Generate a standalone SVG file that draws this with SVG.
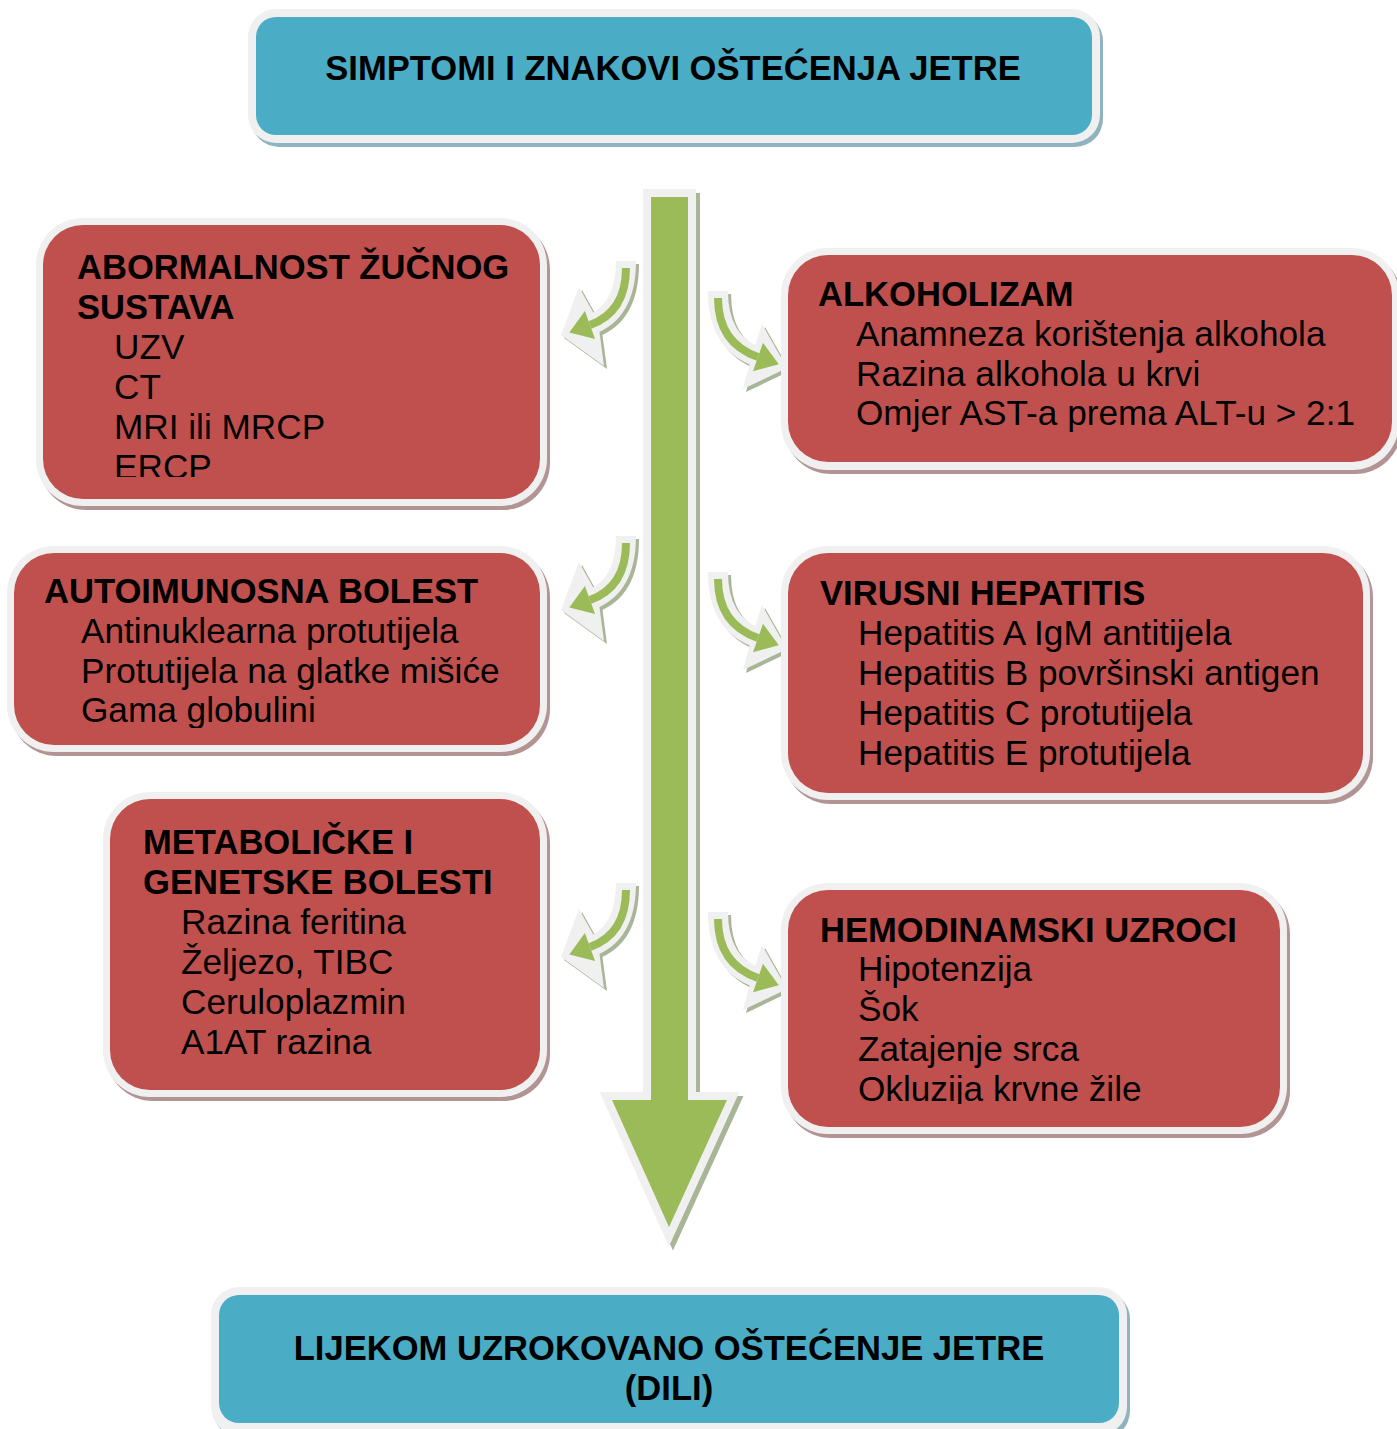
<svg xmlns="http://www.w3.org/2000/svg" xmlns:xlink="http://www.w3.org/1999/xlink" width="1397" height="1429" viewBox="0 0 1397 1429">
<style>
.lt{fill:#f0f0f0}
.shR{fill:#b39494}
.shB{fill:#8fb3bf}
.red{fill:#c0504d}
.blue{fill:#4bacc6}
.t{font-family:"Liberation Sans",Arial,sans-serif;font-size:35.2px;fill:#000}
.b{font-weight:bold;font-size:34.6px}
.c{text-anchor:middle}
.bandSh{fill:none;stroke:#a9b597;stroke-width:20}
.bandLt{fill:none;stroke:#f0f0f0;stroke-width:20}
.bandG{fill:none;stroke:#9bbb59;stroke-width:8}
.hSh{fill:#a9b597}
.hLt{fill:#f0f0f0}
.g{fill:#9bbb59}
</style>
<defs>
<clipPath id="clip1"><rect x="43" y="225" width="497" height="252"/></clipPath>
<clipPath id="clip2"><rect x="14" y="553" width="526" height="175"/></clipPath>
<clipPath id="clip6"><rect x="788" y="890" width="492" height="214"/></clipPath>
<g id="arrL">
<g transform="translate(3,3)">
<path class="bandSh" d="M626,261 Q626,312 590,325"/>
<polygon class="hSh" points="579,287 561,335 604,366 598,321"/>
</g>
<path class="bandLt" d="M626,261 Q626,312 590,325"/>
<polygon class="hLt" points="579,287 561,335 604,366 598,321"/>
<path class="bandG" d="M626,268 Q626,312 590,325"/>
<polygon class="g" points="584.9,310.9 569.3,332.5 595.1,339.1"/>
</g>
<g id="arrR">
<g transform="translate(3,3)">
<path class="bandSh" d="M718,291 Q718,343 758,357"/>
<polygon class="hSh" points="762,324 787,368 743,389 752,355"/>
</g>
<path class="bandLt" d="M718,291 Q718,343 758,357"/>
<polygon class="hLt" points="762,324 787,368 743,389 752,355"/>
<path class="bandG" d="M718,298 Q718,343 758,357"/>
<polygon class="g" points="763,342.8 778.8,364.3 753,371.2"/>
</g>
</defs>
<rect width="1397" height="1429" fill="#ffffff"/>

<g id="connectors">
<g id="mainArrow">
<polygon transform="translate(4,4)" fill="#a9b597" stroke="#a9b597" stroke-width="16" stroke-linejoin="miter" points="651,197 688,197 688,1100 727,1100 669,1227 612,1100 651,1100"/>
<polygon fill="#f0f0f0" stroke="#f0f0f0" stroke-width="16" stroke-linejoin="miter" points="651,197 688,197 688,1100 727,1100 669,1227 612,1100 651,1100"/>
<polygon class="g" points="651,197 688,197 688,1100 727,1100 669,1227 612,1100 651,1100"/>
</g>
<use xlink:href="#arrL"/>
<use xlink:href="#arrL" transform="translate(0,275)"/>
<use xlink:href="#arrL" transform="translate(0,622)"/>
<use xlink:href="#arrR"/>
<use xlink:href="#arrR" transform="translate(0,281)"/>
<use xlink:href="#arrR" transform="translate(0,621)"/>
</g>

<g id="top">
<rect class="shB" x="251" y="13" width="852" height="134" rx="28"/>
<rect class="lt" x="248" y="9" width="852" height="134" rx="28"/>
<rect class="blue" x="256" y="17" width="836" height="118" rx="20"/>
<text class="t b c" x="673" y="80">SIMPTOMI I ZNAKOVI OŠTEĆENJA JETRE</text>
</g>

<g id="box1">
<rect class="shR" x="39" y="222" width="511" height="288" rx="47"/>
<rect class="lt" x="36" y="218" width="511" height="288" rx="47"/>
<rect class="red" x="43" y="225" width="497" height="274" rx="40"/>
<g clip-path="url(#clip1)">
<text class="t b" x="77" y="279">ABORMALNOST ŽUČNOG</text>
<text class="t b" x="77" y="319">SUSTAVA</text>
<text class="t" x="114" y="359">UZV</text>
<text class="t" x="114" y="399">CT</text>
<text class="t" x="114" y="439">MRI ili MRCP</text>
<text class="t" x="114" y="479">ERCP</text>
</g>
</g>

<g id="box2">
<rect class="shR" x="10" y="550" width="540" height="206" rx="47"/>
<rect class="lt" x="7" y="546" width="540" height="206" rx="47"/>
<rect class="red" x="14" y="553" width="526" height="192" rx="40"/>
<g clip-path="url(#clip2)">
<text class="t b" x="44" y="603">AUTOIMUNOSNA BOLEST</text>
<text class="t" x="81" y="643">Antinuklearna protutijela</text>
<text class="t" x="81" y="683">Protutijela na glatke mišiće</text>
<text class="t" x="81" y="722">Gama globulini</text>
</g>
</g>

<g id="box3">
<rect class="shR" x="106" y="796" width="444" height="305" rx="47"/>
<rect class="lt" x="103" y="792" width="444" height="305" rx="47"/>
<rect class="red" x="110" y="799" width="430" height="291" rx="40"/>
<text class="t b" x="143" y="854">METABOLIČKE I</text>
<text class="t b" x="143" y="894">GENETSKE BOLESTI</text>
<text class="t" x="181" y="934">Razina feritina</text>
<text class="t" x="181" y="974">Željezo, TIBC</text>
<text class="t" x="181" y="1014">Ceruloplazmin</text>
<text class="t" x="181" y="1054">A1AT razina</text>
</g>

<g id="box4">
<rect class="shR" x="784" y="252" width="618" height="222" rx="47"/>
<rect class="lt" x="781" y="248" width="618" height="222" rx="47"/>
<rect class="red" x="788" y="255" width="604" height="207" rx="40"/>
<text class="t b" x="818" y="306">ALKOHOLIZAM</text>
<text class="t" x="856" y="346">Anamneza korištenja alkohola</text>
<text class="t" x="856" y="386">Razina alkohola u krvi</text>
<text class="t" x="856" y="425">Omjer AST-a prema ALT-u &gt; 2:1</text>
</g>

<g id="box5">
<rect class="shR" x="784" y="550" width="589" height="254" rx="47"/>
<rect class="lt" x="781" y="546" width="589" height="254" rx="47"/>
<rect class="red" x="788" y="553" width="575" height="240" rx="40"/>
<text class="t b" x="820" y="605">VIRUSNI HEPATITIS</text>
<text class="t" x="858" y="645">Hepatitis A IgM antitijela</text>
<text class="t" x="858" y="685">Hepatitis B površinski antigen</text>
<text class="t" x="858" y="725">Hepatitis C protutijela</text>
<text class="t" x="858" y="765">Hepatitis E protutijela</text>
</g>

<g id="box6">
<rect class="shR" x="784" y="887" width="506" height="251" rx="47"/>
<rect class="lt" x="781" y="883" width="506" height="251" rx="47"/>
<rect class="red" x="788" y="890" width="492" height="237" rx="40"/>
<g clip-path="url(#clip6)">
<text class="t b" x="820" y="942">HEMODINAMSKI UZROCI</text>
<text class="t" x="858" y="981">Hipotenzija</text>
<text class="t" x="858" y="1021">Šok</text>
<text class="t" x="858" y="1061">Zatajenje srca</text>
<text class="t" x="858" y="1101">Okluzija krvne žile</text>
</g>
</g>

<g id="bottom">
<rect class="shB" x="214" y="1291" width="916" height="148" rx="28"/>
<rect class="lt" x="211" y="1287" width="916" height="148" rx="28"/>
<rect class="blue" x="219" y="1295" width="900" height="128" rx="20"/>
<text class="t b c" x="669" y="1360">LIJEKOM UZROKOVANO OŠTEĆENJE JETRE</text>
<text class="t b c" x="669" y="1400">(DILI)</text>
</g>
</svg>
